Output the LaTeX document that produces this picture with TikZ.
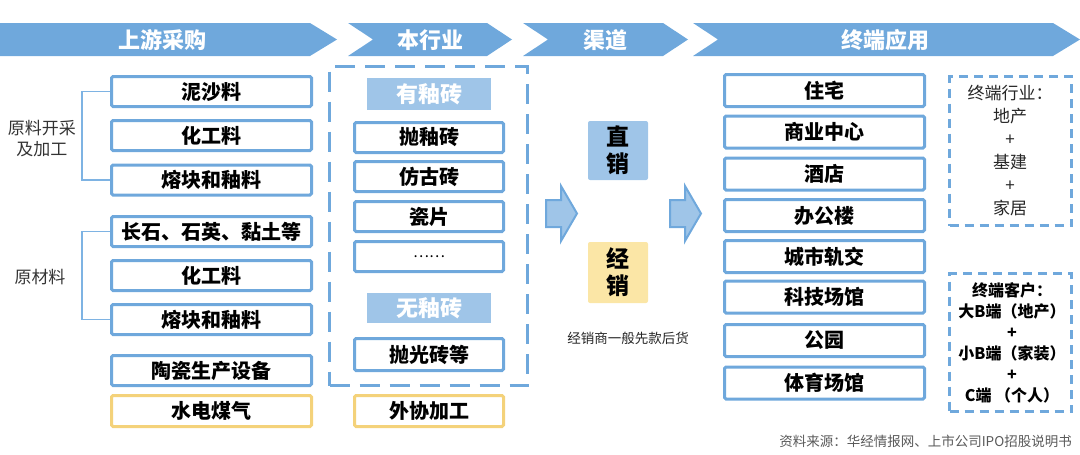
\documentclass[tikz,border=0pt]{standalone}
\usepackage{fontspec}
\setmainfont{Noto Sans CJK SC}
\definecolor{bannerblue}{HTML}{6FA8DC}
\definecolor{boxblue}{HTML}{6FA8DC}
\definecolor{lightblue}{HTML}{9FC5E8}
\definecolor{ylborder}{HTML}{F4D27A}
\definecolor{ylfill}{HTML}{FBE6A6}
\definecolor{bracketblue}{HTML}{7EB3E3}
\definecolor{txtgray}{HTML}{333333}
\definecolor{srcgray}{HTML}{595959}
\begin{document}
\begin{tikzpicture}[x=1pt,y=-1pt,
  banner/.style={fill=bannerblue,draw=none},
  bannertext/.style={text=white,inner sep=0pt,font=\fontsize{22}{24}\selectfont\bfseries},
  itembox/.style={draw=boxblue,line width=3pt,rounded corners=1.5pt,fill=white,inner sep=0pt,
    minimum height=30pt,font=\fontsize{20}{22}\selectfont\bfseries},
  leftbox/.style={itembox,minimum width=200pt},
  midbox/.style={itembox,minimum width=149pt},
  rightbox/.style={itembox,minimum width=200pt,minimum height=32pt},
  yellowbox/.style={draw=ylborder},
  subhead/.style={fill=lightblue,draw=none,inner sep=0pt,minimum width=124pt,text=white,
    font=\fontsize{22}{24}\selectfont\bfseries},
  chanbox/.style={draw=none,rounded corners=2pt,inner sep=0pt,minimum width=60pt,align=center,
    font=\fontsize{23}{27}\selectfont\bfseries},
  bigdash/.style={draw=boxblue,line width=3pt,dash pattern=on 20pt off 10pt,inner sep=0pt},
  smalldash/.style={draw=boxblue,line width=2.5pt,dash pattern=on 9pt off 6pt,inner sep=0pt,
    minimum width=122pt},
  bracket/.style={draw=bracketblue,line width=1.3pt},
  lbl/.style={text=txtgray,align=center,inner sep=0pt,font=\fontsize{17}{21}\selectfont},
  blockarrow/.style={fill=lightblue,draw=boxblue,line width=2pt,line join=miter}
]
\useasboundingbox (0,0) rectangle (1080,455);

% header banners
\path[banner] (0,23) -- (310,23) -- (337,39.5) -- (310,56) -- (0,56) -- cycle;
\path[banner] (348,23) -- (487,23) -- (512,39.5) -- (487,56) -- (348,56) -- (373,39.5) -- cycle;
\path[banner] (523,23) -- (663,23) -- (688,39.5) -- (663,56) -- (523,56) -- (548,39.5) -- cycle;
\path[banner] (693,23) -- (1053,23) -- (1080,39.5) -- (1053,56) -- (693,56) -- (718,39.5) -- cycle;
\node[bannertext] (hd1) at (162,40) {上游采购};
\node[bannertext] (hd2) at (430,40) {本行业};
\node[bannertext] (hd3) at (605,40) {渠道};
\node[bannertext] (hd4) at (885,40) {终端应用};

% left column
\node[leftbox] (l1) at (211.5,91.5) {泥沙料};
\node[leftbox] (l2) at (211.5,135.5) {化工料};
\node[leftbox] (l3) at (211.5,180) {熔块和釉料};
\node[leftbox] (l4) at (211.5,231.5) {长石、石英、黏土等};
\node[leftbox] (l5) at (211.5,275.5) {化工料};
\node[leftbox] (l6) at (211.5,319.5) {熔块和釉料};
\node[leftbox] (l7) at (211.5,370.5) {陶瓷生产设备};
\node[leftbox,yellowbox,minimum height=31pt] (l8) at (211.5,411) {水电煤气};

\draw[bracket] (l1.west) -- ++(-28,0) |- (l3.west);
\draw[bracket] (l4.west) -- ++(-28,0) |- (l6.west);
\node[lbl] (g1) at (42,139) {原料开采\\及加工};
\node[lbl] (g2) at (40,277) {原材料};

% middle column
\node[bigdash,minimum width=198pt,minimum height=319pt] (mid) at (428.5,226) {};
\node[subhead,minimum height=32pt] (h1) at (429,94) {有釉砖};
\node[midbox] (m1) at (429,137.5) {抛釉砖};
\node[midbox] (m2) at (429,176.5) {仿古砖};
\node[midbox] (m3) at (429,216.5) {瓷片};
\node[midbox,font=\fontsize{15}{17}\selectfont] (m4) at (429,256.5) {……};
\node[subhead,minimum height=30pt] (h2) at (429,308) {无釉砖};
\node[midbox,minimum height=32pt] (m5) at (429,354.5) {抛光砖等};
\node[midbox,yellowbox,minimum height=31pt] (m6) at (429,411) {外协加工};

% channel
\node[chanbox,fill=lightblue,minimum height=59pt] (c1) at (618,150.5) {直\\销};
\node[chanbox,fill=ylfill,minimum height=61pt] (c2) at (618,272.5) {经\\销};
\node[lbl,text=black!85,font=\fontsize{13.5}{16}\selectfont] (note) at (628,338) {经销商一般先款后货};

% block arrows
\draw[blockarrow] (546,200) -- (561,200) -- (561,186) -- (577,213.5) -- (561,241) -- (561,227) -- (546,227) -- cycle;
\draw[blockarrow] (670,200) -- (685,200) -- (685,186) -- (701,213.5) -- (685,241) -- (685,227) -- (670,227) -- cycle;

% right column
\node[rightbox] (r1) at (824.5,90.5) {住宅};
\node[rightbox] (r2) at (824.5,132) {商业中心};
\node[rightbox] (r3) at (824.5,174) {酒店};
\node[rightbox] (r4) at (824.5,215.5) {办公楼};
\node[rightbox] (r5) at (824.5,256.5) {城市轨交};
\node[rightbox] (r6) at (824.5,297) {科技场馆};
\node[rightbox] (r7) at (824.5,340.5) {公园};
\node[rightbox] (r8) at (824.5,383) {体育场馆};

\node[smalldash,minimum height=149pt] (t1) at (1010.5,151) {};
\node[lbl,text=black!85,font=\fontsize{17}{23}\selectfont] (t1txt) at (1010,151) {终端行业：\\地产\\+\\基建\\+\\家居};
\node[smalldash,minimum height=138pt] (t2) at (1010.5,342.5) {};
\node[lbl,text=black,font=\fontsize{16}{21}\selectfont\bfseries] (t2txt) at (1012,343) {终端客户：\\大B端（地产）\\+\\小B端（家装）\\+\\C端 （个人）};

% source
\node[lbl,anchor=east,text=srcgray,font=\fontsize{13.5}{16}\selectfont] (src) at (1072,441) {资料来源：华经情报网、上市公司IPO招股说明书};
\end{tikzpicture}
\end{document}
